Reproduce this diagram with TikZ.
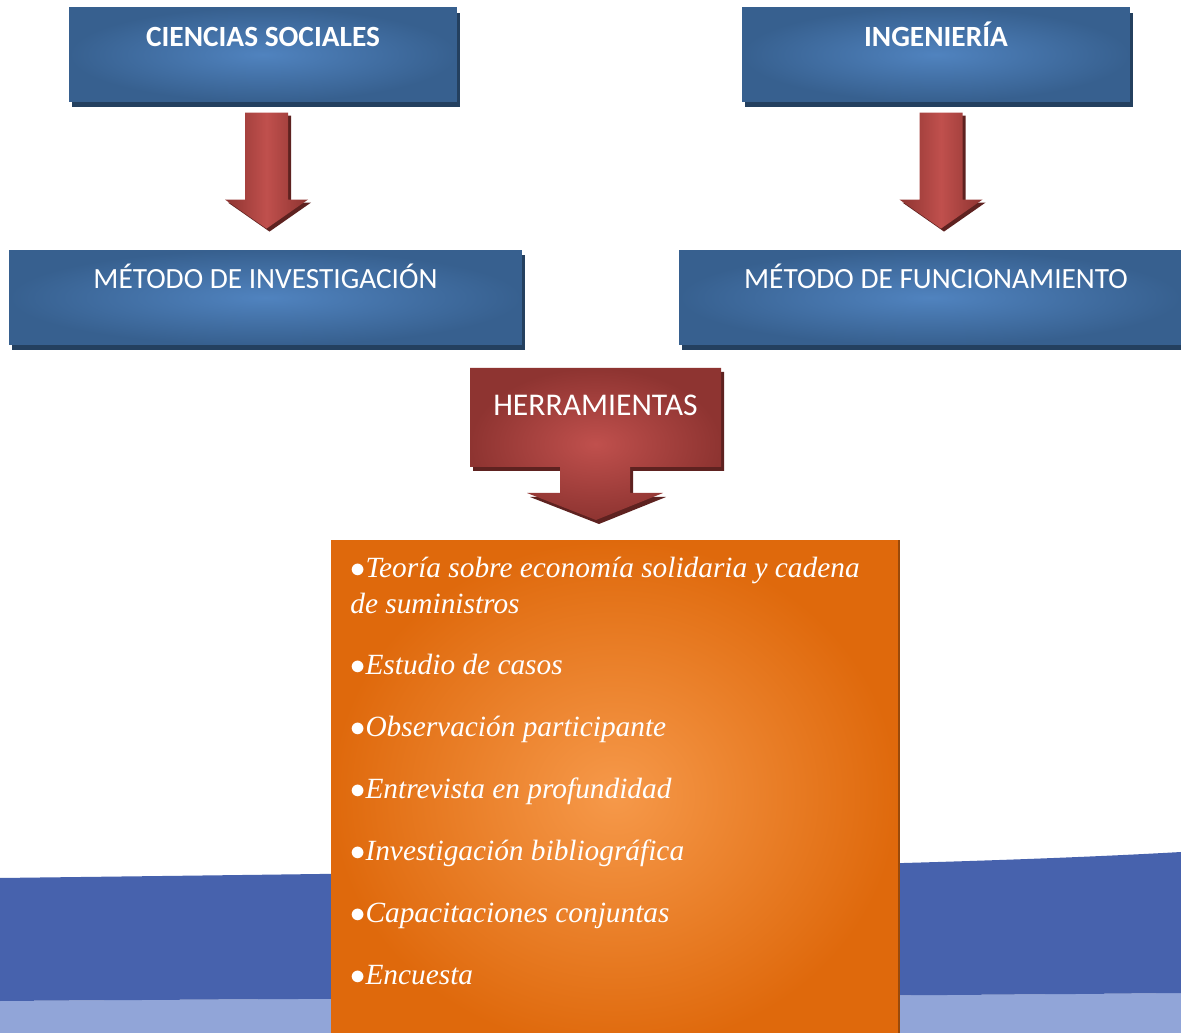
\documentclass[tikz,border=0pt]{standalone}
\usepackage{fontspec}
\setmainfont{Liberation Serif}
\newfontfamily\calibri{Carlito}
\usetikzlibrary{calc,shadows}

\definecolor{azulO}{HTML}{37608F}
\definecolor{azulC}{HTML}{5083BF}
\definecolor{azulS}{HTML}{24405F}
\definecolor{rojoO}{HTML}{8E3431}
\definecolor{rojoC}{HTML}{C0504D}
\definecolor{rojoS}{HTML}{5E2220}
\definecolor{naranjaO}{HTML}{DF690C}
\definecolor{naranjaC}{HTML}{F6994A}
\definecolor{naranjaS}{HTML}{9A4A0A}
\definecolor{olaA}{HTML}{4762AD}
\definecolor{olaB}{HTML}{91A5D8}

\tikzset{
	cajaazul/.style={rectangle, inner color=azulC, outer color=azulO, minimum height=1.87cm,
		drop shadow={shadow xshift=1.8pt, shadow yshift=-3pt, opacity=1, fill=azulS}},
	titulo/.style={anchor=base, inner sep=0pt, text=white, font=\calibri\fontsize{16.7}{19}\selectfont},
	item/.style={anchor=base west, inner sep=0pt, text=white, font=\itshape\fontsize{16.7}{20}\selectfont}
}

% flecha de bloque hacia abajo, #1 = centro arriba
\newcommand{\flecha}[1]{
	\fill[rojoS] ($#1+(3,3)$) ++(-21.5,0) -- ++(43,0) -- ++(0,87) -- ++(20,0)
		-- ++(-41.5,29) -- ++(-41.5,-29) -- ++(20,0) -- cycle;
	\shade[left color=rojoO, right color=rojoO, middle color=rojoC]
		($#1$) ++(-21.5,0) -- ++(43,0) -- ++(0,87) -- ++(20,0)
		-- ++(-41.5,29) -- ++(-41.5,-29) -- ++(20,0) -- cycle;
}

\begin{document}
\begin{tikzpicture}[x=0.02cm, y=-0.02cm]
	\useasboundingbox (0,0) rectangle (1181,1033);
	\fill[white] (0,0) rectangle (1181,1033);
	
	% fondo
	\fill[olaB] (0,1001) .. controls (400,998) and (900,996) .. (1181,993) -- (1181,1033) -- (0,1033) -- cycle;
	\fill[olaA] (0,878) .. controls (400,873) and (900,868) .. (1181,852) -- (1181,993)
		.. controls (900,996) and (400,998) .. (0,1001) -- cycle;
	
	% cajas de arriba
	\node[cajaazul, minimum width=7.76cm] (cs) at (263,54.5) {};
	\node[titulo, font=\calibri\bfseries\fontsize{16.7}{19}\selectfont] (cstxt) at (263,47) {CIENCIAS SOCIALES};
	\node[cajaazul, minimum width=7.76cm] (ing) at (936,54.5) {};
	\node[titulo, font=\calibri\bfseries\fontsize{16.7}{19}\selectfont] (ingtxt) at (936,47) {INGENIERÍA};
	
	\flecha{(cs.south)+(3.5,11)}
	\flecha{(ing.south)+(5,11)}
	
	\node[cajaazul, minimum width=10.26cm, minimum height=1.9cm] (mi) at (265.5,297.5) {};
	\node[titulo] (mitxt) at (265.5,289) {MÉTODO DE INVESTIGACIÓN};
	\node[cajaazul, minimum width=10.04cm, minimum height=1.9cm] (mf) at (930,297.5) {};
	\node[titulo] (mftxt) at (936,289) {MÉTODO DE FUNCIONAMIENTO};
	
	% herramientas
	\fill[rojoS, shift={(3,4)}] (470,368) -- (721,368) -- (721,467) -- (630,467) -- (630,493) -- (663,493)
		-- (596,520) -- (527,493) -- (560,493) -- (560,467) -- (470,467) -- cycle;
	\shade[inner color=rojoC, outer color=rojoO] (470,368) -- (721,368) -- (721,467) -- (630,467) -- (630,493) -- (663,493)
		-- (596,520) -- (527,493) -- (560,493) -- (560,467) -- (470,467) -- cycle;
	\node[titulo, font=\calibri\fontsize{18}{21}\selectfont] (herr) at (595.5,416) {HERRAMIENTAS};
	
	% lista
	\node[rectangle, inner color=naranjaC, outer color=naranjaO, minimum width=11.34cm, minimum height=10.2cm,
		drop shadow={shadow xshift=1.2pt, shadow yshift=0pt, opacity=1, fill=naranjaS}] (lista) at (614.5,795) {};
	\node[item] (it1) at (350,578) {$\bullet$Teoría sobre economía solidaria y cadena};
	\node[item] (it1b) at (350,614) {de suministros};
	\foreach \y/\t [count=\i from 2] in {675/Estudio de casos, 737/Observación participante,
		799/Entrevista en profundidad, 861/Investigación bibliográfica,
		923/Capacitaciones conjuntas, 985/Encuesta}
		\node[item] (it\i) at (350,\y) {$\bullet$\t};
\end{tikzpicture}
\end{document}
